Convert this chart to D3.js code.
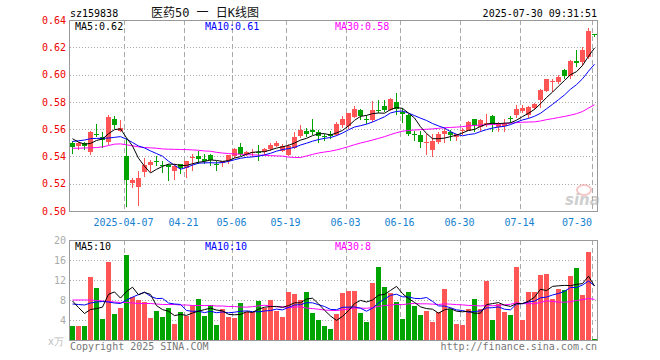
<!DOCTYPE html>
<html>
<head>
<meta charset="utf-8">
<script src="https://cdn.jsdelivr.net/npm/d3@7"></script>
<style>
  body { margin: 0; background: #fff; }
  svg { display: block; }
  text { font-family: "DejaVu Sans Mono", "Liberation Mono", monospace; font-size: 10px; }
</style>
</head>
<body>
<div id="chart"></div>
<script>
// trading days shown (2025)
var dates = [
  "03-24","03-25","03-26","03-27","03-28","03-31","04-01","04-02","04-03",
  "04-07","04-08","04-09","04-10","04-11","04-14","04-15","04-16","04-17","04-18",
  "04-21","04-22","04-23","04-24","04-25","04-28","04-29","04-30",
  "05-06","05-07","05-08","05-09","05-12","05-13","05-14","05-15","05-16",
  "05-19","05-20","05-21","05-22","05-23","05-26","05-27","05-28","05-29","05-30",
  "06-03","06-04","06-05","06-06","06-09","06-10","06-11","06-12","06-13",
  "06-16","06-17","06-18","06-19","06-20","06-23","06-24","06-25","06-26","06-27",
  "06-30","07-01","07-02","07-03","07-04","07-07","07-08","07-09","07-10","07-11",
  "07-14","07-15","07-16","07-17","07-18","07-21","07-22","07-23","07-24","07-25",
  "07-28","07-29","07-30"
];

var opens = [
  0.5502,0.5473,0.5502,0.5434,0.5561,0.5546,0.5507,0.5673,0.5583,
  0.5405,0.5202,0.5178,0.5283,0.5339,0.5363,0.5337,0.5339,0.5296,0.5346,
  0.5314,0.5393,0.5400,0.5378,0.5407,0.5346,0.5346,0.5363,
  0.5407,0.5469,0.5415,0.5425,0.5434,0.5432,0.5454,0.5481,0.5446,
  0.5415,0.5463,0.5549,0.5585,0.5593,0.5578,0.5551,0.5561,0.5561,0.5627,
  0.5617,0.5690,0.5737,0.5678,0.5666,0.5739,0.5773,0.5744,0.5802,
  0.5722,0.5702,0.5568,0.5556,0.5505,0.5449,0.5502,0.5563,0.5580,0.5537,
  0.5590,0.5593,0.5673,0.5617,0.5644,0.5693,0.5617,0.5624,0.5680,0.5698,
  0.5732,0.5702,0.5756,0.5812,0.5880,0.5951,0.5946,0.6032,0.5990,0.6098,
  0.6098,0.6129,0.6295
];
var highs = [
  0.5515,0.5507,0.5505,0.5588,0.5637,0.5580,0.5705,0.5693,0.5668,
  0.5532,0.5241,0.5295,0.5385,0.5373,0.5400,0.5363,0.5344,0.5346,0.5346,
  0.5370,0.5420,0.5437,0.5420,0.5420,0.5363,0.5370,0.5407,
  0.5462,0.5501,0.5437,0.5457,0.5486,0.5462,0.5499,0.5511,0.5493,
  0.5488,0.5578,0.5634,0.5610,0.5671,0.5593,0.5568,0.5585,0.5651,0.5700,
  0.5720,0.5773,0.5749,0.5707,0.5805,0.5817,0.5817,0.5829,0.5863,
  0.5754,0.5710,0.5585,0.5585,0.5561,0.5561,0.5580,0.5605,0.5595,0.5568,
  0.5605,0.5661,0.5678,0.5678,0.5712,0.5702,0.5649,0.5671,0.5695,0.5776,
  0.5776,0.5771,0.5788,0.5893,0.5971,0.5966,0.6000,0.6044,0.6105,0.6183,
  0.6202,0.6344,0.6300
];
var lows = [
  0.5424,0.5454,0.5454,0.5417,0.5549,0.5471,0.5490,0.5605,0.5583,
  0.5034,0.5173,0.5044,0.5254,0.5295,0.5339,0.5288,0.5229,0.5234,0.5277,
  0.5247,0.5304,0.5353,0.5353,0.5338,0.5304,0.5333,0.5353,
  0.5395,0.5407,0.5407,0.5400,0.5373,0.5420,0.5449,0.5474,0.5439,
  0.5407,0.5459,0.5544,0.5549,0.5568,0.5505,0.5520,0.5532,0.5556,0.5617,
  0.5610,0.5690,0.5676,0.5646,0.5659,0.5724,0.5732,0.5739,0.5712,
  0.5651,0.5556,0.5524,0.5471,0.5415,0.5405,0.5502,0.5507,0.5524,0.5524,
  0.5563,0.5593,0.5585,0.5585,0.5622,0.5590,0.5585,0.5585,0.5654,0.5690,
  0.5727,0.5690,0.5746,0.5763,0.5878,0.5878,0.5941,0.5976,0.5976,0.6063,
  0.6068,0.6122,0.6283
];
var closes = [
  0.5473,0.5498,0.5478,0.5580,0.5556,0.5527,0.5690,0.5629,0.5607,
  0.5229,0.5227,0.5241,0.5337,0.5361,0.5361,0.5334,0.5324,0.5333,0.5316,
  0.5363,0.5397,0.5378,0.5363,0.5370,0.5344,0.5363,0.5407,
  0.5457,0.5420,0.5432,0.5432,0.5430,0.5457,0.5486,0.5501,0.5480,
  0.5480,0.5544,0.5593,0.5566,0.5578,0.5549,0.5549,0.5544,0.5641,0.5671,
  0.5715,0.5751,0.5690,0.5676,0.5737,0.5737,0.5744,0.5824,0.5751,
  0.5705,0.5563,0.5566,0.5502,0.5507,0.5512,0.5563,0.5588,0.5556,0.5561,
  0.5593,0.5656,0.5624,0.5666,0.5646,0.5625,0.5641,0.5641,0.5678,0.5744,
  0.5756,0.5763,0.5783,0.5885,0.5971,0.5954,0.5983,0.5990,0.6098,0.6080,
  0.6183,0.6320,0.6293
];
// volume, unit: 10k
var volumes = [
  2.8,2.8,2.8,12.6,10.4,4.3,15.6,5.2,6.4,
  17.0,8.6,8.0,7.6,4.4,5.8,4.6,6.4,3.2,5.6,
  4.8,7.0,8.2,4.8,7.0,3.0,6.2,4.6,
  4.4,7.4,5.6,5.6,7.8,6.4,8.0,5.8,4.6,
  9.6,9.2,8.0,9.6,5.4,4.0,2.8,2.2,5.2,9.4,
  9.8,9.8,5.4,3.6,11.4,14.6,10.6,9.4,7.6,
  4.2,9.6,6.8,5.0,5.8,3.6,5.6,10.2,6.2,3.2,
  3.0,6.2,8.2,6.2,11.8,4.0,7.2,5.6,5.0,14.6,
  4.0,9.6,9.6,13.0,13.2,8.2,10.2,10.0,12.8,14.4,
  9.0,17.6,0.2
];

// averages before the window start cannot be computed from what is shown
var priceMa5Head = [0.5530, 0.5505, 0.5490, 0.5495];
var priceMa10Head = [0.5510, 0.5515, 0.5520, 0.5530, 0.5532, 0.5533, 0.5535, 0.5540, 0.5545];
var priceMa30Head = [
  0.5460,0.5460,0.5462,0.5463,0.5465,0.5470,0.5480,0.5490,0.5492,0.5485,
  0.5478,0.5470,0.5465,0.5463,0.5460,0.5455,0.5453,0.5452,0.5451,0.5450,
  0.5448,0.5445,0.5440,0.5438,0.5430,0.5425,0.5421,0.5418,0.5416
];
var volMa5Head = [7.8, 6.5, 5.3, 6.1];
var volMa10Head = [7.2, 7.1, 7.0, 7.4, 7.6, 7.7, 7.6, 7.4, 7.3];
var volMa30Head = [
  8.0,8.0,8.0,8.0,7.9,7.8,7.7,7.6,7.5,7.5,
  7.4,7.3,7.3,7.3,7.2,7.1,7.1,7.1,7.0,7.0,
  6.9,6.9,6.9,6.9,6.8,6.8,6.7,6.7,6.6
];

var priceTicks = [0.50, 0.52, 0.54, 0.56, 0.58, 0.60, 0.62, 0.64];
var volTicks = [4, 8, 12, 16, 20];
var tickDates = ["04-07","04-21","05-06","05-19","06-03","06-16","06-30","07-14","07-30"];
var tickLabels = ["2025-04-07","04-21","05-06","05-19","06-03","06-16","06-30","07-14","07-30"];

var RED = "#ff5555", GREEN = "#00a400", GRID = "#aaaaaa";

function movingAvg(vals, n, head) {
  return vals.map(function (v, i) {
    if (i < n - 1) return head[i];
    return d3.mean(vals.slice(i - n + 1, i + 1));
  });
}

var candles = dates.map(function (d, i) {
  return { date: d, o: opens[i], h: highs[i], l: lows[i], c: closes[i], v: volumes[i] };
});
var pMa = [
  { vals: movingAvg(closes, 30, priceMa30Head), color: "#ff00ff" },
  { vals: movingAvg(closes, 10, priceMa10Head), color: "#0000ff" },
  { vals: movingAvg(closes, 5, priceMa5Head), color: "#000000" }
];
var vMa = [
  { vals: movingAvg(volumes, 30, volMa30Head), color: "#ff00ff" },
  { vals: movingAvg(volumes, 10, volMa10Head), color: "#0000ff" },
  { vals: movingAvg(volumes, 5, volMa5Head), color: "#000000" }
];

var svg = d3.select("#chart").append("svg")
    .attr("width", 660)
    .attr("height", 360);

var x = d3.scaleBand().domain(dates).range([69, 597]);
var yP = d3.scaleLinear().domain([0.50, 0.64]).range([211, 20]);
var yV = d3.scaleLinear().domain([0, 20]).range([340, 240]);

function crisp(v) { return Math.round(v) + 0.5; }
function mid(d) { return x(d) + 3.5; }

// clip areas
var defs = svg.append("defs");
defs.append("clipPath").attr("id", "clipP").append("rect")
    .attr("x", 70).attr("y", 20).attr("width", 527).attr("height", 191);
defs.append("clipPath").attr("id", "clipV").append("rect")
    .attr("x", 70).attr("y", 240).attr("width", 527).attr("height", 100);

// header
svg.append("text").attr("x", 70).attr("y", 16.5).attr("fill", "#000").text("sz159838");
svg.append("text").attr("x", 205).attr("y", 16.5).attr("text-anchor", "middle")
    .style("font-family", "'DejaVu Sans Mono', 'Noto Sans CJK SC', sans-serif")
    .style("font-size", "12px").style("white-space", "pre")
    .attr("fill", "#111").text("医药50 一 日K线图");
svg.append("text").attr("x", 597).attr("y", 16.5).attr("text-anchor", "end")
    .attr("fill", "#000").text("2025-07-30 09:31:51");

// grids
function panelGrid(top, bottom, scale, ticks) {
  var g = svg.append("g");
  g.selectAll("line.h").data(ticks.filter(function (t) {
      var yy = scale(t); return yy > top + 1 && yy < bottom - 1;
    }))
    .enter().append("line")
      .attr("x1", 70).attr("x2", 597)
      .attr("y1", function (t) { return crisp(scale(t)); })
      .attr("y2", function (t) { return crisp(scale(t)); })
      .attr("stroke", GRID).attr("stroke-dasharray", "1,2");
  g.selectAll("line.v").data(tickDates).enter().append("line")
      .attr("x1", function (d) { return x(d) + 1.5; })
      .attr("x2", function (d) { return x(d) + 1.5; })
      .attr("y1", top).attr("y2", bottom)
      .attr("stroke", GRID).attr("stroke-dasharray", "5,3");
  g.append("rect").attr("x", 69.5).attr("y", top + 0.5)
      .attr("width", 528).attr("height", bottom - top)
      .attr("fill", "none").attr("stroke", "#999");
}
panelGrid(20, 211, yP, priceTicks);
panelGrid(240, 340, yV, volTicks);

// sina watermark
var wm = svg.append("g").attr("opacity", 0.6);
wm.append("ellipse").attr("cx", 584).attr("cy", 190).attr("rx", 7).attr("ry", 5)
    .attr("fill", "none").attr("stroke", "#f2a0a0").attr("stroke-width", 2);
wm.append("text").attr("x", 565).attr("y", 205)
    .style("font-family", "'DejaVu Sans', sans-serif").style("font-size", "15px")
    .style("font-style", "italic").style("font-weight", "bold")
    .attr("fill", "#b0b0b0").text("sina");

// price axis labels
var axP = svg.append("g").attr("transform", "translate(70,0)")
    .call(d3.axisLeft(yP).tickValues(priceTicks).tickSize(0).tickPadding(4)
      .tickFormat(d3.format(".2f")));
axP.select(".domain").remove();
axP.selectAll("text").attr("fill", "#ee0000")
    .style("font-family", "'DejaVu Sans Mono', monospace").style("font-size", "10px");

var axV = svg.append("g").attr("transform", "translate(70,0)")
    .call(d3.axisLeft(yV).tickValues(volTicks).tickSize(0).tickPadding(4));
axV.select(".domain").remove();
axV.selectAll("text").attr("fill", "#aaaaaa")
    .style("font-family", "'DejaVu Sans Mono', monospace").style("font-size", "10px");
svg.append("text").attr("x", 64).attr("y", 345).attr("text-anchor", "end")
    .attr("fill", "#bbbbbb").text("x万");

// date labels
svg.selectAll("text.date").data(tickDates).enter().append("text")
    .attr("class", "date")
    .attr("y", 225.5)
    .attr("fill", "#1581cf")
    .text(function (d, i) { return tickLabels[i]; })
    .each(function (d) {
      var w = this.getComputedTextLength();
      var c = x(d) + 0.5;
      if (c + w / 2 > 592) c = 592 - w / 2;
      d3.select(this).attr("x", c - w / 2);
    });

// candles
var cg = svg.append("g").attr("clip-path", "url(#clipP)");
var candle = cg.selectAll("g.k").data(candles).enter().append("g");
candle.append("line")
    .attr("x1", function (d) { return mid(d.date); })
    .attr("x2", function (d) { return mid(d.date); })
    .attr("y1", function (d) { return Math.round(yP(d.h)); })
    .attr("y2", function (d) { return Math.round(yP(d.l)) + 1; })
    .attr("stroke", function (d) { return d.c >= d.o ? RED : GREEN; });
candle.append("rect")
    .attr("x", function (d) { return x(d.date) + 1; })
    .attr("width", 5)
    .attr("y", function (d) { return Math.round(yP(Math.max(d.o, d.c))); })
    .attr("height", function (d) {
      return Math.max(1, Math.round(Math.abs(yP(d.o) - yP(d.c))));
    })
    .attr("fill", function (d) { return d.c >= d.o ? RED : GREEN; });

// moving averages on price
cg.selectAll("path.ma").data(pMa).enter().append("path")
    .attr("fill", "none")
    .attr("stroke", function (m) { return m.color; })
    .attr("stroke-width", 1)
    .attr("d", function (m) {
      return d3.line()
        .x(function (v, i) { return mid(dates[i]); })
        .y(function (v) { return yP(v); })(m.vals);
    });

// volume bars
var vg = svg.append("g").attr("clip-path", "url(#clipV)");
vg.selectAll("rect").data(candles).enter().append("rect")
    .attr("x", function (d) { return x(d.date) + 1; })
    .attr("width", 5)
    .attr("y", function (d) { return Math.round(yV(d.v)); })
    .attr("height", function (d) { return 340 - Math.round(yV(d.v)); })
    .attr("fill", function (d) { return d.c >= d.o ? RED : GREEN; });
vg.selectAll("path.ma").data(vMa).enter().append("path")
    .attr("fill", "none")
    .attr("stroke", function (m) { return m.color; })
    .attr("stroke-width", 1)
    .attr("d", function (m) {
      return d3.line()
        .x(function (v, i) { return mid(dates[i]); })
        .y(function (v) { return yV(v); })(m.vals);
    });

// legends
var last = dates.length - 1;
var fmtP = d3.format(".2f");
svg.append("text").attr("x", 75).attr("y", 29.5).attr("fill", "#000")
    .text("MA5:" + fmtP(pMa[2].vals[last]));
svg.append("text").attr("x", 205).attr("y", 29.5).attr("fill", "#0000ff")
    .text("MA10:" + fmtP(pMa[1].vals[last]));
svg.append("text").attr("x", 335).attr("y", 29.5).attr("fill", "#ff00ff")
    .text("MA30:" + fmtP(pMa[0].vals[last]));
svg.append("text").attr("x", 75).attr("y", 249.5).attr("fill", "#000")
    .text("MA5:" + Math.floor(vMa[2].vals[last]));
svg.append("text").attr("x", 205).attr("y", 249.5).attr("fill", "#0000ff")
    .text("MA10:" + Math.floor(vMa[1].vals[last]));
svg.append("text").attr("x", 335).attr("y", 249.5).attr("fill", "#ff00ff")
    .text("MA30:" + Math.floor(vMa[0].vals[last]));

// footer
svg.append("text").attr("x", 70).attr("y", 349.5).attr("fill", "#777")
    .text("Copyright 2025 SINA.COM");
svg.append("text").attr("x", 597).attr("y", 349.5).attr("text-anchor", "end")
    .attr("fill", "#777").text("http://finance.sina.com.cn");
</script>
</body>
</html>
